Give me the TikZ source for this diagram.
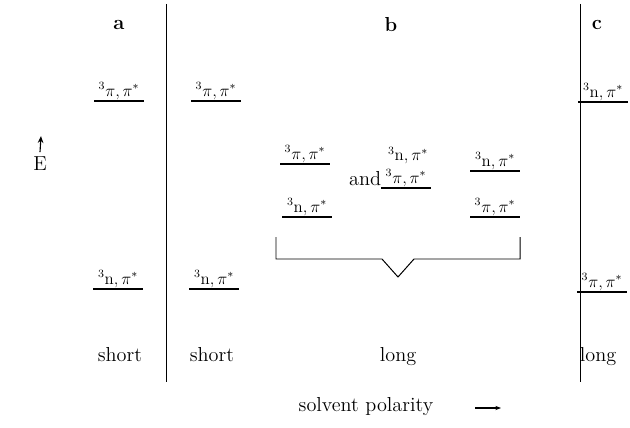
\documentclass[tikz,border=0pt]{standalone}
\usepackage{amsmath}
\usepackage{tikz}
\usetikzlibrary{arrows.meta,positioning}

\begin{document}
\begin{tikzpicture}[
  x=0.025cm,y=-0.025cm,
  lvl/.style={inner sep=1pt,minimum width=1.22cm,font=\large,anchor=south},
  lvlline/.style={line width=0.9pt},
  head/.style={font=\Large\bfseries},
  sep/.style={line width=0.7pt},
  tag/.style={font=\Large},
  arr/.style={-{Stealth[length=5pt,width=4pt]},line width=0.8pt}
]
  \useasboundingbox (0,0) rectangle (630,427);

  % column dividers and headings
  \coordinate (s1t) at (166,4);   \coordinate (s1b) at (166,382);
  \coordinate (s2t) at (580,4);   \coordinate (s2b) at (580,382);
  \draw[sep] (s1t)--(s1b);
  \draw[sep] (s2t)--(s2b);
  \node[head] (ha) at (119,25) {a};
  \node[head] (hb) at (391,25) {b};
  \node[head] (hc) at (597,25) {c};

  % energy axis
  \node[font=\Large] (E) at (40,164) {E};
  \coordinate (Etop) at (41,136);
  \draw[arr] (E.north)--(Etop);

  % case a
  \node[lvl] (a1) at (119,101) {$^3\pi,\pi^*$};
  \draw[lvlline] (a1.south west)--(a1.south east);
  \node[lvl] (a2) at (118,289) {$^3\mathrm{n},\pi^*$};
  \draw[lvlline] (a2.south west)--(a2.south east);
  \node[tag] (ta) at (120,355) {short};

  % case a, second solvent
  \node[lvl] (a3) at (216,101) {$^3\pi,\pi^*$};
  \draw[lvlline] (a3.south west)--(a3.south east);
  \node[lvl] (a4) at (214,289) {$^3\mathrm{n},\pi^*$};
  \draw[lvlline] (a4.south west)--(a4.south east);
  \node[tag] (tb) at (212,355) {short};

  % case b
  \node[lvl] (b1) at (305,164) {$^3\pi,\pi^*$};
  \draw[lvlline] (b1.south west)--(b1.south east);
  \node[lvl] (b2) at (307,217) {$^3\mathrm{n},\pi^*$};
  \draw[lvlline] (b2.south west)--(b2.south east);
  \node[lvl,inner sep=0pt] (b3) at (408,164) {$^3\mathrm{n},\pi^*$};
  \node[lvl] (b4) at (406,188) {$^3\pi,\pi^*$};
  \draw[lvlline] (b4.south west)--(b4.south east);
  \node[font=\Large,anchor=east,inner sep=0pt] (and) at ([yshift=7pt]b4.south west) {and};
  \node[lvl] (b5) at (495,171) {$^3\mathrm{n},\pi^*$};
  \draw[lvlline] (b5.south west)--(b5.south east);
  \node[lvl] (b6) at (495,217) {$^3\pi,\pi^*$};
  \draw[lvlline] (b6.south west)--(b6.south east);

  % bracket grouping case b
  \coordinate (k1) at (276,237);
  \coordinate (k2) at (276,259);
  \coordinate (k3) at (382,259);
  \coordinate (k4) at (398,277);
  \coordinate (k5) at (414,259);
  \coordinate (k6) at (520,259);
  \coordinate (k7) at (520,237);
  \draw[sep] (k1)--(k2)--(k3)--(k4)--(k5)--(k6)--(k7);
  \node[tag] (tl) at (398,357) {long};

  % case c
  \node[lvl] (c1) at (603,102) {$^3\mathrm{n},\pi^*$};
  \draw[lvlline] (c1.south west)--(c1.south east);
  \node[lvl] (c2) at (602,292) {$^3\pi,\pi^*$};
  \draw[lvlline] (c2.south west)--(c2.south east);
  \node[tag] (tc) at (598,357) {long};

  % solvent polarity axis
  \node[font=\Large] (sp) at (366,407) {solvent polarity};
  \coordinate (sps) at (475,408);
  \coordinate (spend) at (501,408);
  \draw[arr,-{Stealth[length=4pt,width=3pt]}] (sps)--(spend);
\end{tikzpicture}
\end{document}
